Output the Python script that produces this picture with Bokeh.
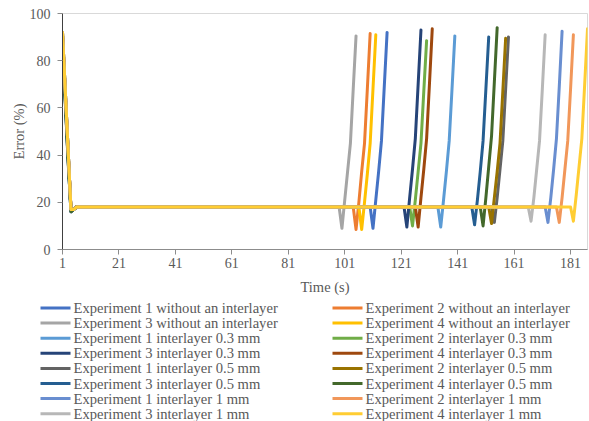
from bokeh.plotting import figure
from bokeh.layouts import column
from bokeh.models import Range1d, FixedTicker
from bokeh.core.properties import value
from bokeh.embed import file_html
from bokeh.resources import INLINE

names = [
    "Experiment 1 without an interlayer", "Experiment 2 without an interlayer",
    "Experiment 3 without an interlayer", "Experiment 4 without an interlayer",
    "Experiment 1 interlayer 0.3 mm", "Experiment 2 interlayer 0.3 mm",
    "Experiment 3 interlayer 0.3 mm", "Experiment 4 interlayer 0.3 mm",
    "Experiment 1 interlayer 0.5 mm", "Experiment 2 interlayer 0.5 mm",
    "Experiment 3 interlayer 0.5 mm", "Experiment 4 interlayer 0.5 mm",
    "Experiment 1 interlayer 1 mm", "Experiment 2 interlayer 1 mm",
    "Experiment 3 interlayer 1 mm", "Experiment 4 interlayer 1 mm",
]
colors = [
    "#4472C4", "#ED7D31", "#A5A5A5", "#FFC000",
    "#5B9BD5", "#70AD47", "#264478", "#9E480E",
    "#636363", "#997300", "#255E91", "#43682B",
    "#698ED0", "#F1975A", "#B7B7B7", "#FFCD33",
]

# first seconds (t = 1..5) for each series
start_values = [
    [92, 67, 42, 17, 17], [91, 66, 41, 17, 17], [92, 67, 42, 17, 17], [92, 67, 42, 17, 17],
    [91, 66, 41, 17, 17], [90, 65, 40, 17, 17], [89, 63, 38, 16, 17], [91, 66, 41, 17, 17],
    [90, 64, 39, 17, 17], [91, 66, 41, 17, 17], [89, 63, 38, 16, 17], [88, 62, 37, 16, 17],
    [92, 67, 42, 17, 17], [92, 67, 42, 17, 17], [92, 67, 42, 17, 17], [92, 67, 42, 17, 17],
]
plateau = 18
# time (s) at which the final dip occurs
dip_times = [111, 105, 100, 107, 135, 125, 123, 127, 154, 153, 147, 150, 173, 177, 167, 182]
# values from the dip onwards (dip, then rise to the end)
end_values = [
    [9.0, 21, 33, 46, 69, 92.0],
    [8.5, 20, 33, 45, 68, 91.5],
    [9.0, 21, 33, 45, 68, 90.5],
    [8.5, 20, 32, 45, 68, 91.0],
    [9.5, 21, 33, 46, 68, 90.5],
    [10.0, 21, 33, 45, 67, 88.5],
    [9.5, 22, 34, 47, 70, 93.0],
    [9.5, 22, 34, 47, 70, 93.5],
    [11.5, 22, 34, 46, 68, 90.0],
    [11.0, 22, 33, 45, 67, 89.5],
    [10.5, 21, 33, 46, 68, 90.0],
    [10.0, 22, 35, 48, 71, 94.0],
    [11.5, 22, 34, 47, 69, 92.5],
    [11.5, 22, 34, 46, 68, 91.0],
    [12.0, 22, 34, 46, 68, 91.0],
    [12.0, 23, 35, 47, 70, 93.5],
]
x_ticks = [1, 21, 41, 61, 81, 101, 121, 141, 161, 181]
y_ticks = [0, 20, 40, 60, 80, 100]

FONT = "Liberation Serif"
TXT = "#595959"

p = figure(width=589, height=297, output_backend="svg", toolbar_location=None,
           x_range=Range1d(1, 187), y_range=Range1d(0, 100),
           min_border_left=62, min_border_right=2, min_border_top=13, min_border_bottom=47)
p.frame_align = False
p.grid.visible = False
p.outline_line_color = "#D9D9D9"
p.outline_line_width = 1
p.background_fill_color = "white"
p.border_fill_color = "white"

for i in range(16):
    d = dip_times[i]
    ys = list(start_values[i]) + [plateau] * (d - 1 - len(start_values[i])) + list(end_values[i])
    xs = list(range(1, len(ys) + 1))
    p.line(xs, ys, line_color=colors[i], line_width=3, line_join="round", line_cap="round")

p.xaxis.ticker = FixedTicker(ticks=x_ticks)
p.yaxis.ticker = FixedTicker(ticks=y_ticks)
for ax in (p.xaxis[0], p.yaxis[0]):
    ax.major_label_text_font = FONT
    ax.major_label_text_font_size = "14px"
    ax.major_label_text_color = TXT
    ax.axis_label_text_font = FONT
    ax.axis_label_text_font_size = "14.5px"
    ax.axis_label_text_color = TXT
    ax.axis_label_text_font_style = "normal"
    ax.minor_tick_line_color = None
    ax.major_tick_in = 0
    ax.major_tick_out = 5
p.xaxis.axis_label = "Time (s)"
p.yaxis.axis_label = "Error (%)"
p.xaxis.axis_line_color = "#8C8C8C"
p.xaxis.major_tick_line_color = "#8C8C8C"
p.yaxis.axis_line_color = "#404040"
p.yaxis.major_tick_line_color = "#8C8C8C"
p.xaxis.major_label_standoff = 3
p.xaxis.axis_label_standoff = 8
p.yaxis.major_label_standoff = 7
p.yaxis.axis_label_standoff = 0

# legend panel below the chart (screen-pixel coordinates, y downward)
LW, LH = 589, 124
pl = figure(width=LW, height=LH, output_backend="svg", toolbar_location=None,
            x_range=Range1d(0, LW), y_range=Range1d(LH, 0),
            min_border_left=0, min_border_right=0, min_border_top=0, min_border_bottom=0)
pl.frame_align = False
pl.axis.visible = False
pl.grid.visible = False
pl.outline_line_color = None
pl.background_fill_color = "white"
pl.border_fill_color = "white"

col_x = [40, 332]
row_y0, row_step = 10.5, 15.1
gx0, gx1, tx = [], [], []
gy, lab, cols = [], [], []
for i in range(16):
    c, r = i % 2, i // 2
    x0 = col_x[c]
    y = row_y0 + r * row_step
    gx0.append(x0)
    gx1.append(x0 + 30)
    tx.append(x0 + 33)
    gy.append(y)
    lab.append(names[i])
    cols.append(colors[i])
pl.segment(x0=gx0, y0=gy, x1=gx1, y1=gy, line_color=cols, line_width=3)
pl.text(x=tx, y=gy, text=lab, text_font=value(FONT), text_font_size="14.6px",
        text_color=TXT, text_baseline="middle", text_align="left")

layout = column(p, pl, spacing=0)
open("out.html", "w").write(file_html(layout, INLINE))
